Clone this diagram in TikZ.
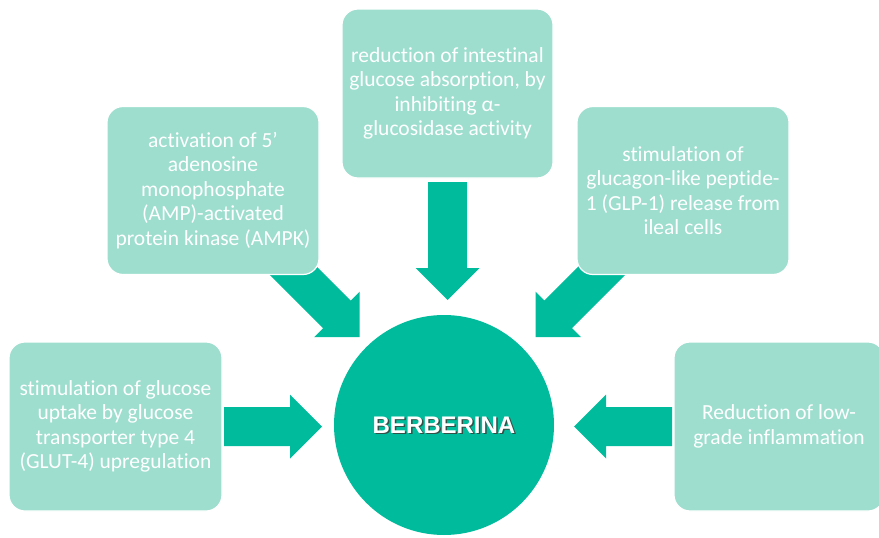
\documentclass[tikz,border=0pt]{standalone}
\usepackage{fontspec}
\setmainfont[Ligatures={NoCommon}]{Carlito}
\newfontfamily\headfont{Liberation Sans}
\usetikzlibrary{calc}

\definecolor{boxfill}{RGB}{158,222,206}
\definecolor{teal}{RGB}{0,188,156}
\definecolor{shadowgray}{RGB}{50,80,72}

% block arrow from coordinate #1 (tail, on the axis) to coordinate #2 (tip)
\newcommand\blockarrow[2]{%
  \coordinate (hb) at ($(#2)!32pt!(#1)$);
  \fill[teal]
    ($(#1)!19.5pt!90:(#2)$) --
    ($(hb)!19.5pt!-90:(#1)$) --
    ($(hb)!32pt!-90:(#1)$) --
    (#2) --
    ($(hb)!32pt!90:(#1)$) --
    ($(hb)!19.5pt!90:(#1)$) --
    ($(#1)!19.5pt!-90:(#2)$) -- cycle;
}

\tikzset{
  effect/.style={rectangle, rounded corners=16pt, fill=boxfill, draw=white,
    line width=1.2pt, text=white, align=center, inner sep=0pt,
    font=\fontsize{21.5pt}{24.4pt}\selectfont},
  headline/.style={font=\headfont\bfseries\fontsize{24pt}{28pt}\selectfont},
}

\begin{document}
\begin{tikzpicture}[x=1pt,y=-1pt]
\useasboundingbox (0,0) rectangle (879,538);

% arrow tails and tips
\coordinate (t1) at (447.5,182);   \coordinate (p1) at (447.5,300);
\coordinate (t2) at (280,257.5);   \coordinate (p2) at (359.5,337);
\coordinate (t3) at (615,257.5);   \coordinate (p3) at (535.5,337);
\coordinate (t4) at (224,426.5);   \coordinate (p4) at (322,426.5);
\coordinate (t5) at (672,426.5);   \coordinate (p5) at (574,426.5);

\blockarrow{t1}{p1}
\blockarrow{t2}{p2}
\blockarrow{t3}{p3}
\blockarrow{t4}{p4}
\blockarrow{t5}{p5}

% effect boxes
\node[effect, minimum width=211pt, minimum height=169pt] (b1) at (447.5,93.5)
  {reduction of intestinal\\glucose absorption, by\\inhibiting α-\\glucosidase activity};
\node[effect, minimum width=212pt, minimum height=168pt] (b2) at (213,190.5)
  {activation of 5’\\adenosine\\monophosphate\\(AMP)-activated\\protein kinase (AMPK)};
\node[effect, minimum width=212pt, minimum height=168pt] (b3) at (683,190.5)
  {stimulation of\\glucagon-like peptide-\\1 (GLP-1) release from\\ileal cells};
\node[effect, minimum width=213pt, minimum height=169pt] (b4) at (115.5,426.5)
  {stimulation of glucose\\uptake by glucose\\transporter type 4\\(GLUT-4) upregulation};
\node[effect, minimum width=210pt, minimum height=169pt] (b5) at (779,426.5)
  {Reduction of low-\\grade inflammation};

% central circle
\node[circle, fill=teal, minimum size=220pt, inner sep=0pt] (c) at (444,425) {};
\node[headline, text=shadowgray] at ($(c.center)+(1.5,1.5)$) {BERBERINA};
\node[headline, text=white] (lbl) at (c.center) {BERBERINA};
\end{tikzpicture}
\end{document}
